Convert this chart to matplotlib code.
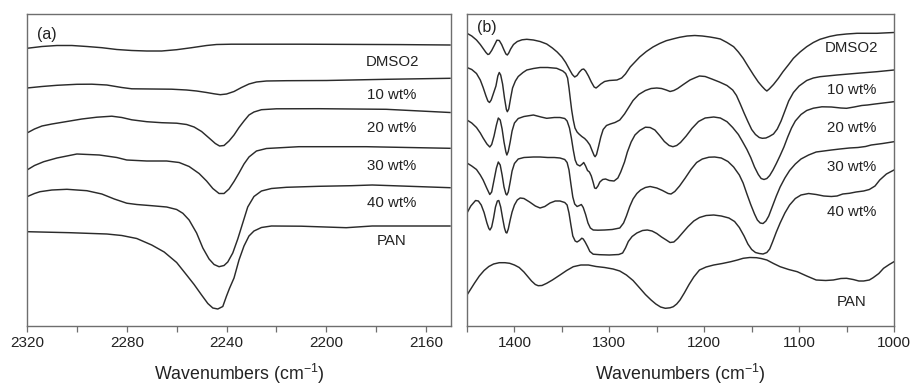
import matplotlib
matplotlib.use("Agg")
import matplotlib.pyplot as plt
from matplotlib.ticker import MultipleLocator

plt.rcParams['font.family'] = ['Liberation Sans', 'DejaVu Sans']
plt.rcParams['mathtext.fontset'] = 'custom'
plt.rcParams['mathtext.rm'] = 'Liberation Sans'
plt.rcParams['mathtext.it'] = 'Liberation Sans'
plt.rcParams['mathtext.default'] = 'regular'

labels = ["DMSO2", "10 wt%", "20 wt%", "30 wt%", "40 wt%", "PAN"]

# ---------------- panel (a): 2320-2150 cm-1 (offset transmittance, a.u.)
wn_a_dmso2 = [2320, 2314, 2308, 2302, 2296, 2290, 2284, 2278, 2272, 2266, 2260, 2254, 2248, 2244, 2238, 2230, 2210, 2190, 2170, 2150.4]
t_a_dmso2 = [277.7, 279.5, 280.5, 280.5, 279.5, 278.3, 276.5, 275.5, 275, 275, 276.3, 278.3, 280.5, 281.5, 281.8, 281.8, 281.8, 281.6, 281.4, 281]

wn_a_10 = [2320, 2314, 2308, 2300, 2294, 2288, 2282, 2278, 2270, 2262, 2256, 2252, 2248, 2245, 2242.5, 2240, 2237, 2234, 2231, 2228, 2224, 2216, 2200, 2176, 2150.4]
t_a_10 = [238, 239.5, 240.7, 241.7, 241.8, 241, 238.5, 237.2, 237, 236.8, 236, 235, 233.5, 232.2, 231.3, 232, 234.5, 238.5, 242, 244, 245, 245.3, 245.5, 246.7, 247.7]

wn_a_20 = [2320, 2317, 2314, 2310, 2304, 2298, 2292, 2286, 2282, 2278, 2272, 2266, 2260, 2256, 2253, 2250, 2247, 2244.5, 2242.8, 2241, 2239, 2237, 2235, 2233, 2231, 2229, 2226, 2220, 2203, 2176, 2150.4]
t_a_20 = [193, 197, 200, 202, 204.5, 207, 208.8, 209.8, 208.5, 206.2, 204.3, 203.3, 202.8, 201.5, 199, 194.5, 188, 182.5, 180, 180.5, 185, 191, 198.5, 205, 211, 214, 216.3, 217.2, 217.3, 216.7, 213.5]

wn_a_30 = [2320, 2317, 2313.3, 2308, 2300, 2291, 2284, 2280, 2272, 2264, 2259, 2255, 2251, 2248, 2245.5, 2243, 2241, 2239, 2237, 2235, 2233, 2231, 2228, 2224, 2211, 2184, 2150.4]
t_a_30 = [156, 160.5, 164.3, 168, 172, 171, 168.5, 166, 165, 165, 163.5, 159.5, 152.5, 145, 137.5, 132.5, 132.5, 137, 144.5, 153, 162, 169, 175, 177.5, 179.3, 179.3, 177.7]

wn_a_40 = [2320, 2317, 2314.8, 2310, 2304, 2296, 2290, 2285, 2280, 2276, 2270, 2264, 2260, 2257.5, 2255, 2252, 2249.5, 2247, 2245, 2243, 2241, 2239.5, 2237.5, 2235.5, 2233.5, 2231.5, 2229, 2226, 2222, 2216, 2203, 2190, 2181.6, 2170, 2150.4]
t_a_40 = [129.3, 132.5, 134.3, 136, 136.7, 135.3, 132, 127, 122.8, 121.5, 120.3, 119, 116.5, 112.7, 106, 93, 78, 67, 61.5, 59.3, 60.5, 64, 73, 87, 103, 119, 129.5, 135, 137.5, 138.7, 139.7, 140.3, 141, 140, 138.3]

wn_a_pan = [2320, 2302.8, 2288, 2282, 2276, 2270, 2265, 2260, 2256, 2253, 2250, 2247.5, 2245.5, 2243.5, 2241.5, 2240, 2238.8, 2237, 2235, 2233, 2231, 2229, 2226, 2222, 2210, 2192, 2181.6, 2150.4]
t_a_pan = [94.3, 93.3, 92, 90.5, 87.5, 81, 74, 63.5, 51, 41.5, 31, 22.5, 18, 17, 19.5, 30, 37.7, 48, 66, 80, 90, 95, 98.5, 100, 99.8, 98.3, 100, 100]

# ---------------- panel (b): 1450-1000 cm-1
wn_b_dmso2 = [1450, 1445, 1440, 1436, 1433, 1430, 1428, 1426.5, 1424, 1421, 1418.5, 1416, 1413.5, 1411, 1409, 1407.5, 1406, 1404, 1401, 1397, 1392, 1387, 1380, 1373, 1366, 1360, 1355, 1350, 1346, 1342, 1339, 1336.5, 1334, 1331.5, 1329, 1327, 1325, 1322, 1319, 1316, 1314, 1312, 1309, 1305, 1300, 1292, 1287, 1283, 1278, 1273, 1268, 1261, 1254, 1247, 1240, 1232, 1226, 1218, 1210, 1202, 1194, 1188, 1183, 1176, 1169, 1164, 1159, 1154, 1148, 1143, 1139, 1136, 1134, 1131.5, 1127, 1122, 1117, 1111, 1106, 1099, 1092, 1085, 1078, 1068, 1060, 1050, 1039, 1018, 1000]
t_b_dmso2 = [292.7, 290, 286, 281.5, 277.5, 273.5, 271.5, 272, 275.5, 281, 285.8, 285.5, 281.5, 276, 272, 271, 273, 277, 281.5, 284.5, 286.2, 286.7, 286, 284.5, 282, 278, 274, 269, 263.5, 256.5, 251.5, 249, 250.5, 254, 256.5, 257, 255, 250, 244, 239, 238, 239.5, 242, 244.5, 245.5, 246, 248, 252, 259, 264, 269, 274.5, 279, 282.5, 285.3, 287.3, 288.7, 290, 290.5, 290, 289, 288, 287, 283.5, 279.3, 274, 267.7, 260, 251, 244, 239.5, 236.5, 235, 237, 241.5, 247.5, 254.3, 261.5, 267.7, 274, 279.3, 283.5, 286.7, 289.5, 291, 292, 292.7, 292.7, 293.5]

wn_b_10 = [1450, 1445, 1440, 1436, 1433, 1430, 1428, 1426.3, 1424.5, 1422, 1419.5, 1417.5, 1416, 1414.5, 1412.5, 1410.5, 1408.5, 1407.5, 1406, 1404, 1402, 1399, 1396, 1391, 1387, 1380, 1373, 1365, 1355.5, 1349, 1346, 1344, 1342.5, 1341, 1339.7, 1338, 1336.2, 1334, 1332, 1329, 1326, 1323.5, 1320.5, 1318, 1316, 1315, 1313.5, 1311.5, 1309, 1306.5, 1303, 1299, 1294, 1289, 1284, 1279, 1275, 1269, 1262, 1256, 1250, 1245, 1240, 1236, 1232, 1228, 1222, 1215, 1209, 1205, 1199, 1192, 1184, 1176, 1170, 1166, 1162, 1158, 1154, 1150, 1146, 1142, 1138.8, 1135, 1131.5, 1127, 1123, 1119, 1115, 1111, 1106, 1100, 1092, 1085, 1078, 1060, 1039, 1018, 1000]
t_b_10 = [258.5, 256.5, 252.5, 246, 238.5, 230, 225, 223.5, 226, 233, 240, 250, 253.5, 251, 242, 228, 216.5, 214.3, 217, 228, 238, 245, 249.5, 253.5, 256, 257.5, 258.5, 258.5, 257.7, 255, 252.5, 248, 238, 226, 216, 206, 198, 194, 192, 189.5, 187.5, 185, 181, 175, 170.5, 169.3, 171.5, 179, 189, 196.5, 200.5, 202, 203.5, 206, 212, 219.5, 225.5, 231.5, 235.5, 237.5, 238, 237.5, 236, 234.5, 235.5, 237.5, 241.5, 246, 248.5, 250, 249.5, 247, 244, 240.5, 236, 230.5, 222, 213, 204.5, 196.5, 191.5, 188.5, 187.7, 188, 189.5, 192, 197, 205, 215, 225, 233.5, 240, 245.5, 248, 249.3, 251, 252.7, 254.3, 256]

wn_b_20 = [1450, 1445, 1440, 1436, 1433, 1429, 1426, 1424, 1421.5, 1419, 1417, 1415, 1413, 1411, 1409, 1408, 1406.5, 1404.5, 1402.5, 1400, 1396, 1390, 1380, 1372, 1366, 1358, 1352, 1347, 1344.5, 1342, 1340, 1338, 1336, 1334, 1331, 1328.5, 1327, 1325, 1323, 1321, 1319, 1317, 1315.5, 1314, 1312, 1310, 1307, 1304, 1300, 1295, 1291, 1288, 1284, 1281, 1277, 1273, 1268, 1262, 1257, 1252, 1247, 1242, 1237, 1233, 1229, 1225, 1219, 1213, 1206, 1199, 1190, 1183, 1176, 1170, 1164, 1160, 1155, 1151, 1147, 1143, 1140, 1137, 1134, 1131, 1127.5, 1124, 1120, 1116, 1112, 1108, 1104, 1098, 1092, 1085, 1076, 1066, 1056, 1050, 1042, 1034, 1028, 1020, 1014, 1007, 1000]
t_b_20 = [206, 203, 198.5, 193, 188, 182, 179, 181.5, 190, 201, 208, 206, 197, 184, 174, 171, 174.5, 184, 195, 203, 207.5, 209.5, 211, 209, 207.7, 208.5, 208.5, 207.5, 205, 198, 188, 176, 166, 161.5, 160, 162, 163.5, 160, 155.5, 154, 150, 143.5, 138, 137.5, 140, 144, 146.5, 147, 145.5, 145, 148, 154, 164, 174, 184, 191, 195.5, 198.8, 198.5, 196, 190.5, 184.5, 180.5, 179.3, 180.5, 183.5, 190, 197.5, 204.5, 208, 209, 208, 204.3, 198.5, 191.5, 185, 176.5, 168.5, 159, 151.5, 147.5, 146.5, 147.5, 150.5, 156, 162.5, 170.5, 179, 189, 198, 205, 211.5, 215.5, 217.8, 219.2, 219, 218, 217.7, 219, 220.5, 221, 222, 222.7, 223.5, 224.3]

wn_b_30 = [1450, 1445, 1440, 1436, 1433, 1429, 1426, 1424, 1421.5, 1419, 1417, 1415, 1413, 1411, 1409, 1408, 1406.5, 1404.5, 1402.5, 1400, 1396, 1390, 1380, 1373, 1365, 1358, 1352, 1347, 1344.5, 1342.5, 1340.5, 1338.5, 1336.5, 1334, 1331.5, 1329.5, 1327.5, 1325, 1322.5, 1320, 1317, 1312, 1305, 1297, 1289, 1285, 1282, 1278.5, 1275, 1271, 1267, 1262, 1257, 1250, 1244, 1238, 1235, 1231, 1226, 1220, 1214, 1208, 1202, 1195, 1189, 1182, 1175, 1169, 1163, 1159, 1155, 1151, 1147, 1144, 1141, 1138, 1135, 1132, 1128, 1124, 1120, 1115, 1110, 1104, 1098, 1090, 1082, 1074, 1066, 1057, 1047, 1038, 1030, 1024, 1012, 1000]
t_b_30 = [163, 160, 156.5, 151, 146, 137.5, 131.5, 134, 146, 158, 164, 161, 151, 139, 132, 131, 134, 144, 155, 162.5, 167, 168.5, 169, 169, 168.5, 168.5, 168, 166.5, 163.5, 156, 142, 129, 122, 119.5, 120.5, 121.5, 118.5, 111.5, 103, 98, 96, 95.8, 96, 96.5, 98, 103, 110, 119.5, 127, 132.5, 136, 138.5, 139.5, 138, 135.5, 132.5, 132, 134.5, 140, 148, 156.5, 163.5, 167, 168.8, 169, 168, 164.5, 159, 151, 143, 132, 121.5, 112, 106, 103, 102.5, 105, 110, 120, 130, 139, 148, 155.5, 162, 167, 171, 174, 175, 176, 177, 178, 178.5, 179.5, 181, 182.5, 184.3]

wn_b_40 = [1450, 1446, 1441, 1438, 1435, 1432, 1429, 1427, 1425.8, 1424, 1422, 1420, 1418, 1416.5, 1414.5, 1412.5, 1410.5, 1409, 1408, 1406.5, 1404.5, 1402.5, 1400, 1397, 1394, 1390, 1384, 1378, 1373, 1368, 1362.5, 1357, 1352, 1347, 1344.5, 1342.5, 1340.5, 1338.5, 1336, 1334, 1331.5, 1329, 1327.5, 1325.5, 1323, 1320.5, 1317, 1310, 1300, 1290, 1286, 1283, 1280, 1276, 1271, 1265, 1260, 1255, 1250, 1245, 1240, 1236, 1232, 1228, 1223, 1217, 1211, 1205, 1198, 1190, 1182, 1174, 1168, 1163, 1158, 1154, 1150, 1146, 1142, 1138, 1134, 1131, 1128, 1124, 1120, 1115, 1110, 1104, 1098, 1090, 1082, 1074, 1066, 1060, 1054, 1047, 1040, 1032, 1026, 1020, 1015, 1008, 1000]
t_b_40 = [113, 120, 125.5, 125, 121, 113.5, 103, 97.5, 96, 99, 108, 119, 125, 125.5, 119, 108, 98, 93.5, 93, 97, 106, 114, 121, 126, 128, 127.5, 124, 120, 118, 119.5, 123, 125, 125, 123.5, 121, 113, 101, 90, 85, 84, 85.5, 87.8, 87, 84, 79.5, 74.5, 71.8, 71.3, 71, 71.5, 73, 78, 84.5, 89.5, 93, 95.5, 96, 95, 92.5, 89, 86, 83.5, 84, 87.5, 93, 99.5, 105, 108.5, 110.5, 111, 110, 108, 104.5, 98.5, 90, 82, 76.5, 73.5, 72.5, 72, 73.5, 77, 84, 94, 103, 113, 121, 127.5, 131, 132.5, 131.5, 130, 129.5, 130, 132, 132.7, 134, 135, 136.5, 140, 146, 152, 156]

wn_b_pan = [1450, 1446, 1442, 1437, 1432, 1427, 1422, 1416, 1410, 1405, 1400, 1395, 1390, 1386, 1382, 1378, 1375, 1371, 1366, 1360, 1352, 1345, 1338, 1330, 1322, 1314, 1305, 1296, 1289, 1282, 1275, 1268, 1262, 1256, 1251, 1246, 1241, 1236, 1232.6, 1229, 1225.5, 1221, 1216, 1211, 1205, 1198, 1190, 1181, 1172, 1165, 1159, 1152, 1145, 1140, 1134, 1127, 1120, 1111, 1102, 1092, 1082, 1072, 1064, 1056, 1050, 1043, 1037, 1032, 1026, 1022, 1016, 1011, 1005, 1000]
t_b_pan = [31, 37, 43, 50, 55.5, 59.5, 62, 63.3, 63.3, 62.7, 61, 58.5, 54, 49.5, 45, 41.5, 40.3, 40.5, 42.7, 46, 51, 55.5, 59.3, 61, 61, 59.5, 58.5, 57, 55, 51, 45.5, 38, 31.5, 26, 22, 19, 17.7, 18.2, 19.3, 22, 26, 33, 41.5, 49, 56, 59, 61, 62.5, 64.3, 66, 67.7, 68.5, 68.3, 67.5, 66, 62.5, 59.3, 56.5, 54.3, 50, 46, 45.5, 46, 47.5, 47.7, 46.5, 45, 45, 46, 48.3, 52.5, 57.7, 61.5, 64.3]

series_a = [(wn_a_dmso2, t_a_dmso2), (wn_a_10, t_a_10), (wn_a_20, t_a_20),
            (wn_a_30, t_a_30), (wn_a_40, t_a_40), (wn_a_pan, t_a_pan)]
series_b = [(wn_b_dmso2, t_b_dmso2), (wn_b_10, t_b_10), (wn_b_20, t_b_20),
            (wn_b_30, t_b_30), (wn_b_40, t_b_40), (wn_b_pan, t_b_pan)]

label_y_a = [0.847, 0.740, 0.636, 0.513, 0.393, 0.272]
label_y_b = [0.891, 0.756, 0.636, 0.511, 0.366, 0.076]

fig = plt.figure(figsize=(9.12, 3.85), dpi=100)
ax_a = fig.add_axes([27/912, 59/385, 424/912, 312/385])
ax_b = fig.add_axes([467/912, 59/385, 427/912, 312/385])

line_col = '#2b2b2b'
frame_col = '#6e6e6e'

def style(ax, xlim, major, minor):
    ax.set_xlim(*xlim)
    ax.set_ylim(0, 312)
    ax.set_yticks([])
    ax.xaxis.set_major_locator(MultipleLocator(major))
    ax.xaxis.set_minor_locator(MultipleLocator(minor))
    ax.tick_params(axis='x', which='both', direction='out', length=4, width=0.9,
                   color=frame_col, labelsize=11, labelcolor='#222222', pad=3)
    for s in ax.spines.values():
        s.set_color(frame_col)
        s.set_linewidth(1.0)
    ax.set_xlabel('Wavenumbers (cm$^{-1}$)', fontsize=12.8, color='#222222', labelpad=9)

for (x, y) in series_a:
    ax_a.plot(x, y, color=line_col, lw=1.05, solid_joinstyle='round')
for (x, y) in series_b:
    ax_b.plot(x, y, color=line_col, lw=1.05, solid_joinstyle='round')

style(ax_a, (2320, 2150), 40, 20)
style(ax_b, (1450, 1000), 100, 50)

for lab, yy in zip(labels, label_y_a):
    ax_a.text(0.861, yy, lab, transform=ax_a.transAxes, ha='center', va='center',
              fontsize=10.8, color='#222222')
for lab, yy in zip(labels, label_y_b):
    ax_b.text(0.9016, yy, lab, transform=ax_b.transAxes, ha='center', va='center',
              fontsize=10.8, color='#222222')

ax_a.text(0.023, 0.933, '(a)', transform=ax_a.transAxes, ha='left', va='center',
          fontsize=11.5, color='#222222')
ax_b.text(0.023, 0.958, '(b)', transform=ax_b.transAxes, ha='left', va='center',
          fontsize=11.5, color='#222222')

fig.savefig('out.png', dpi=100)
